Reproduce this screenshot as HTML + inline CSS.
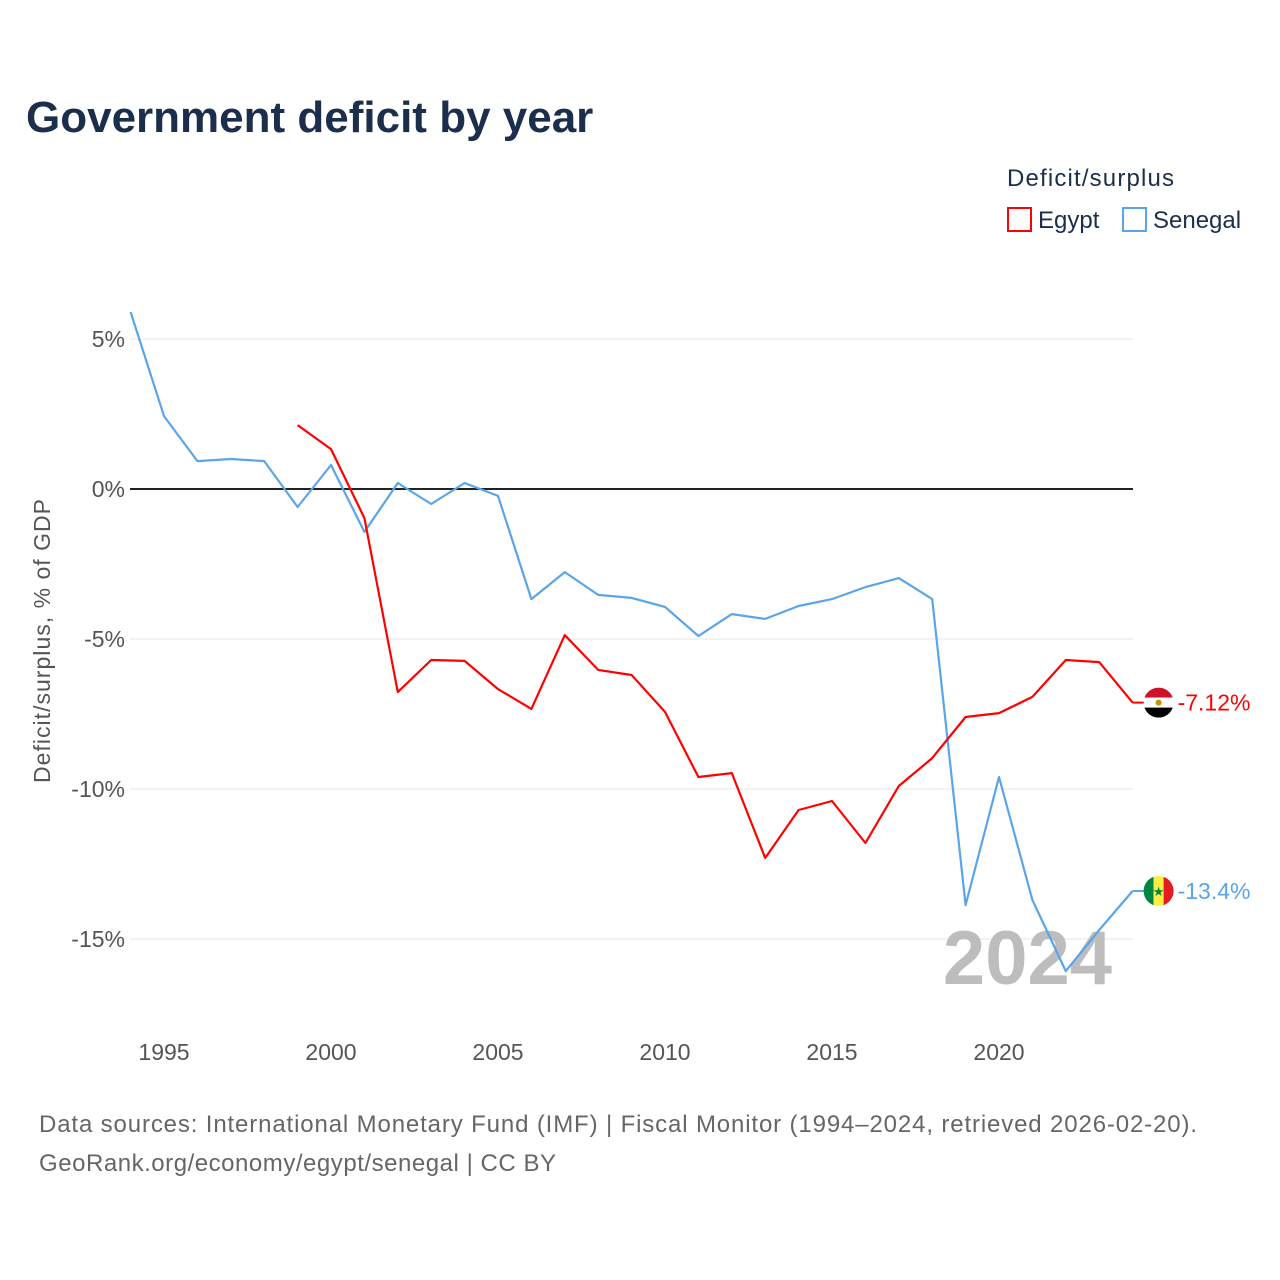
<!DOCTYPE html>
<html><head><meta charset="utf-8"><style>
body{margin:0;background:#fff;font-family:"Liberation Sans",sans-serif;}
svg{display:block}
</style></head><body>
<svg id="chart" width="1280" height="1280" xmlns="http://www.w3.org/2000/svg" font-family="Liberation Sans, sans-serif">
<text x="26" y="132" font-size="44" font-weight="bold" fill="#1b2e4b">Government deficit by year</text>
<text x="1007" y="186" font-size="24" fill="#1b2e4b" textLength="167">Deficit/surplus</text>
<g><rect x="1008" y="208" width="23" height="23" fill="none" stroke="#ff0000" stroke-width="2"/><text x="1038" y="228" font-size="24" fill="#1b2e4b">Egypt</text></g>
<g><rect x="1123" y="208" width="23" height="23" fill="none" stroke="#5aa5ea" stroke-width="2"/><text x="1153" y="228" font-size="24" fill="#1b2e4b">Senegal</text></g>
<text transform="translate(50,641) rotate(-90)" text-anchor="middle" font-size="23" fill="#555" textLength="284">Deficit/surplus, % of GDP</text>
<g id="grid"></g>
<g id="xticks"></g>
<text x="1112" y="984" text-anchor="end" font-size="76" font-weight="bold" fill="#bdbdbd">2024</text>
<g id="series"></g>
<text x="39" y="1132" font-size="24" fill="#666" textLength="1158">Data sources: International Monetary Fund (IMF) | Fiscal Monitor (1994–2024, retrieved 2026-02-20).</text>
<text x="39" y="1171" font-size="24" fill="#666" textLength="517">GeoRank.org/economy/egypt/senegal | CC BY</text>
</svg>
<script>
const yTicks=[5,0,-5,-10,-15];
const yTickLabels=["5%","0%","-5%","-10%","-15%"];
const xTicks=[1995,2000,2005,2010,2015,2020];
const senegalYears=[1994,1995,1996,1997,1998,1999,2000,2001,2002,2003,2004,2005,2006,2007,2008,2009,2010,2011,2012,2013,2014,2015,2016,2017,2018,2019,2020,2021,2022,2023,2024];
const senegalValues=[5.9,2.43,0.93,1.0,0.93,-0.6,0.8,-1.43,0.2,-0.5,0.2,-0.23,-3.67,-2.77,-3.53,-3.63,-3.93,-4.9,-4.17,-4.33,-3.9,-3.67,-3.27,-2.97,-3.67,-13.87,-9.6,-13.7,-16.07,-14.7,-13.4];
const egyptYears=[1999,2000,2001,2002,2003,2004,2005,2006,2007,2008,2009,2010,2011,2012,2013,2014,2015,2016,2017,2018,2019,2020,2021,2022,2023,2024];
const egyptValues=[2.13,1.33,-0.97,-6.77,-5.7,-5.73,-6.67,-7.33,-4.87,-6.03,-6.2,-7.43,-9.6,-9.47,-12.3,-10.7,-10.4,-11.8,-9.9,-8.97,-7.6,-7.47,-6.93,-5.7,-5.77,-7.12];
const egyptLabel="-7.12%", senegalLabel="-13.4%";
const NS="http://www.w3.org/2000/svg";
const X=yr=>164+(yr-1995)*33.4;
const Y=v=>489-v*30;
function mk(t,a,p){const e=document.createElementNS(NS,t);for(const k in a)e.setAttribute(k,a[k]);p.appendChild(e);return e;}
const grid=document.getElementById('grid');
yTicks.forEach((v,i)=>{
 const l=mk('line',{x1:130,x2:1133,y1:Y(v),y2:Y(v),stroke:v===0?'#222':'#e6e6e6','stroke-width':v===0?2:1},grid);
 
 
 const t=mk('text',{x:125,y:Y(v)+8,'text-anchor':'end','font-size':23,fill:'#555'},grid);
 t.textContent=yTickLabels[i];
 
 
});
const xg=document.getElementById('xticks');
xTicks.forEach(yr=>{
 const t=mk('text',{x:X(yr),y:1060,'text-anchor':'middle','font-size':23,fill:'#555'},xg);
 t.textContent=yr;
 
 
});
const sg=document.getElementById('series');
function line(years,vals,color,name){
 const p=mk('polyline',{points:years.map((y,i)=>X(y)+','+Y(vals[i])).join(' '),fill:'none',stroke:color,'stroke-width':2.2,'stroke-linejoin':'round'},sg);
 
 
}
line(senegalYears,senegalValues,'#5aa5ea','senegal-line');
line(egyptYears,egyptValues,'#ff0000','egypt-line');
function endLabel(years,vals,color,label,name,flag){
 const x=X(years[years.length-1]),y=Y(vals[vals.length-1]);
 const g=mk('g',{},sg);
 
 
 mk('line',{x1:x,x2:x+12,y1:y,y2:y,stroke:color,'stroke-width':2},g);
 const cx=x+26;
 if(flag==='eg'){
  mk('clipPath',{id:'ce'},g).appendChild(document.createElementNS(NS,'circle')).setAttribute('r','15');
  document.querySelector('#ce circle').setAttribute('cx',cx);document.querySelector('#ce circle').setAttribute('cy',y);
  mk('rect',{x:cx-15,y:y-15,width:30,height:10,fill:'#ce1126','clip-path':'url(#ce)'},g);
  mk('rect',{x:cx-15,y:y-5,width:30,height:10,fill:'#fff','clip-path':'url(#ce)'},g);
  mk('rect',{x:cx-15,y:y+5,width:30,height:10,fill:'#000','clip-path':'url(#ce)'},g);
  mk('circle',{cx:cx,cy:y,r:3,fill:'#c09300'},g);
 } else {
  mk('clipPath',{id:'cs'},g).appendChild(document.createElementNS(NS,'circle')).setAttribute('r','15');
  document.querySelector('#cs circle').setAttribute('cx',cx);document.querySelector('#cs circle').setAttribute('cy',y);
  mk('rect',{x:cx-15,y:y-15,width:10,height:30,fill:'#00853f','clip-path':'url(#cs)'},g);
  mk('rect',{x:cx-5,y:y-15,width:10,height:30,fill:'#fdef42','clip-path':'url(#cs)'},g);
  mk('rect',{x:cx+5,y:y-15,width:10,height:30,fill:'#e31b23','clip-path':'url(#cs)'},g);
  const s=mk('text',{x:cx,y:y+5,'text-anchor':'middle','font-size':13,fill:'#00853f'},g);s.textContent='★';
 }
 const t=mk('text',{x:x+45,y:y+8,'font-size':23,fill:color},g);
 t.textContent=label;
}
endLabel(egyptYears,egyptValues,'#ff0000',egyptLabel,'egypt-end-label','eg');
endLabel(senegalYears,senegalValues,'#5aa5ea',senegalLabel,'senegal-end-label','sn');
</script>
</body></html>
